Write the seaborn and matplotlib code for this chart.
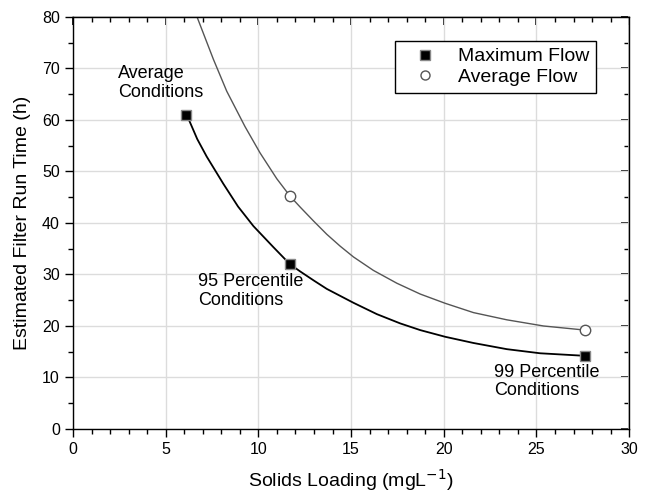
import numpy as np
import pandas as pd
import matplotlib
matplotlib.use("Agg")
import matplotlib.pyplot as plt
from matplotlib.lines import Line2D
from matplotlib.ticker import MultipleLocator
import seaborn as sns

# measured points
max_x = [6.1, 11.7, 27.6]
max_y = [61.0, 32.0, 14.2]
avg_x = [11.7, 27.6]
avg_y = [45.2, 19.2]

# fitted curves
max_curve_x = [6.13, 6.22, 6.7, 7.21, 8.11, 8.9, 9.73, 10.81, 11.7, 12.25, 13.0, 13.69,
               15.13, 16.39, 17.65, 18.73, 20.08, 21.6, 23.4, 25.2, 27.65]
max_curve_y = [61.0, 60.3, 56.3, 52.9, 47.6, 43.2, 39.4, 35.3, 32.0, 30.6, 28.8, 27.2,
               24.5, 22.3, 20.5, 19.2, 17.9, 16.7, 15.5, 14.7, 14.2]
avg_curve_x = [6.68, 7.57, 8.29, 9.28, 10.09, 10.99, 11.71, 12.25, 12.97, 13.69,
               14.41, 15.13, 16.2, 17.47, 18.73, 20.08, 21.6, 23.4, 25.38, 27.63]
avg_curve_y = [80.1, 71.8, 65.6, 58.7, 53.6, 48.6, 45.2, 43.1, 40.4, 37.8,
               35.5, 33.4, 30.8, 28.3, 26.2, 24.4, 22.6, 21.2, 20.0, 19.2]

notes = ["Average\nConditions", "95 Percentile\nConditions", "99 Percentile\nConditions"]
note_x = [2.45, 6.75, 22.7]
note_y = [70.6, 30.2, 12.7]

sns.set_theme(style="whitegrid")
plt.rcParams['font.family'] = ['Liberation Sans', 'DejaVu Sans']
plt.rcParams['text.color'] = 'black'
plt.rcParams['axes.labelcolor'] = 'black'

fig = plt.figure(figsize=(6.52, 4.94), dpi=100)
ax = fig.add_axes([0.112, 0.1316, 0.853, 0.834])

max_curve = pd.DataFrame({'x': max_curve_x, 'y': max_curve_y})
avg_curve = pd.DataFrame({'x': avg_curve_x, 'y': avg_curve_y})
sns.lineplot(data=avg_curve, x='x', y='y', sort=False, color='#555555', linewidth=1.0, ax=ax)
sns.lineplot(data=max_curve, x='x', y='y', sort=False, color='black', linewidth=1.3, ax=ax)

ax.plot(avg_x, avg_y, linestyle='none', marker='o', markersize=7.5,
        markerfacecolor='white', markeredgecolor='#555555', markeredgewidth=1.0, zorder=5)
ax.plot(max_x, max_y, linestyle='none', marker='s', markersize=7.5,
        markerfacecolor='black', markeredgecolor='#888888', markeredgewidth=1.0, zorder=6)

for t, x, y in zip(notes, note_x, note_y):
    ax.text(x, y, t, fontsize=13, va='top', ha='left', linespacing=1.12, color='black')

ax.set_xlim(0, 30)
ax.set_ylim(0, 80)
ax.xaxis.set_major_locator(MultipleLocator(5))
ax.xaxis.set_minor_locator(MultipleLocator(1))
ax.yaxis.set_major_locator(MultipleLocator(10))
ax.yaxis.set_minor_locator(MultipleLocator(5))

ax.grid(True, which='major', color='#dcdcdc', linewidth=1.0)
ax.grid(False, which='minor')
for s in ax.spines.values():
    s.set_color('black')
    s.set_linewidth(1.0)

ax.tick_params(which='both', direction='out', colors='black', labelsize=11.5,
               bottom=True, left=True)
ax.tick_params(which='major', length=6, width=1.0)
ax.tick_params(which='minor', length=3.5, width=1.0)
sec_x = ax.secondary_xaxis('top')
sec_x.xaxis.set_major_locator(MultipleLocator(5))
sec_x.xaxis.set_minor_locator(MultipleLocator(1))
sec_x.tick_params(which='both', direction='in', labeltop=False, colors='black')
sec_x.tick_params(which='major', length=6)
sec_x.tick_params(which='minor', length=3.5)
sec_y = ax.secondary_yaxis('right')
sec_y.yaxis.set_major_locator(MultipleLocator(10))
sec_y.yaxis.set_minor_locator(MultipleLocator(5))
sec_y.tick_params(which='both', direction='in', labelright=False, colors='black')
sec_y.tick_params(which='major', length=6)
sec_y.tick_params(which='minor', length=3.5)

ax.set_xlabel('Solids Loading (mgL$^{-1}$)', fontsize=14, labelpad=7, color='black')
ax.set_ylabel('Estimated Filter Run Time (h)', fontsize=14, labelpad=8, color='black')

handles = [
    Line2D([], [], linestyle='none', marker='s', markersize=6.5, markerfacecolor='black',
           markeredgecolor='#888888', label='Maximum Flow'),
    Line2D([], [], linestyle='none', marker='o', markersize=6.5, markerfacecolor='white',
           markeredgecolor='#555555', label='Average Flow'),
]
leg = ax.legend(handles=handles, loc='upper right', bbox_to_anchor=(0.941, 0.942),
                fontsize=14, frameon=True, fancybox=False, framealpha=1,
                borderpad=0.35, handletextpad=0.5, labelspacing=0.15, handlelength=2.4,
                borderaxespad=0, labelcolor='black')
leg.get_frame().set_edgecolor('black')
leg.get_frame().set_linewidth(1.0)

fig.savefig('out.png', dpi=100)
